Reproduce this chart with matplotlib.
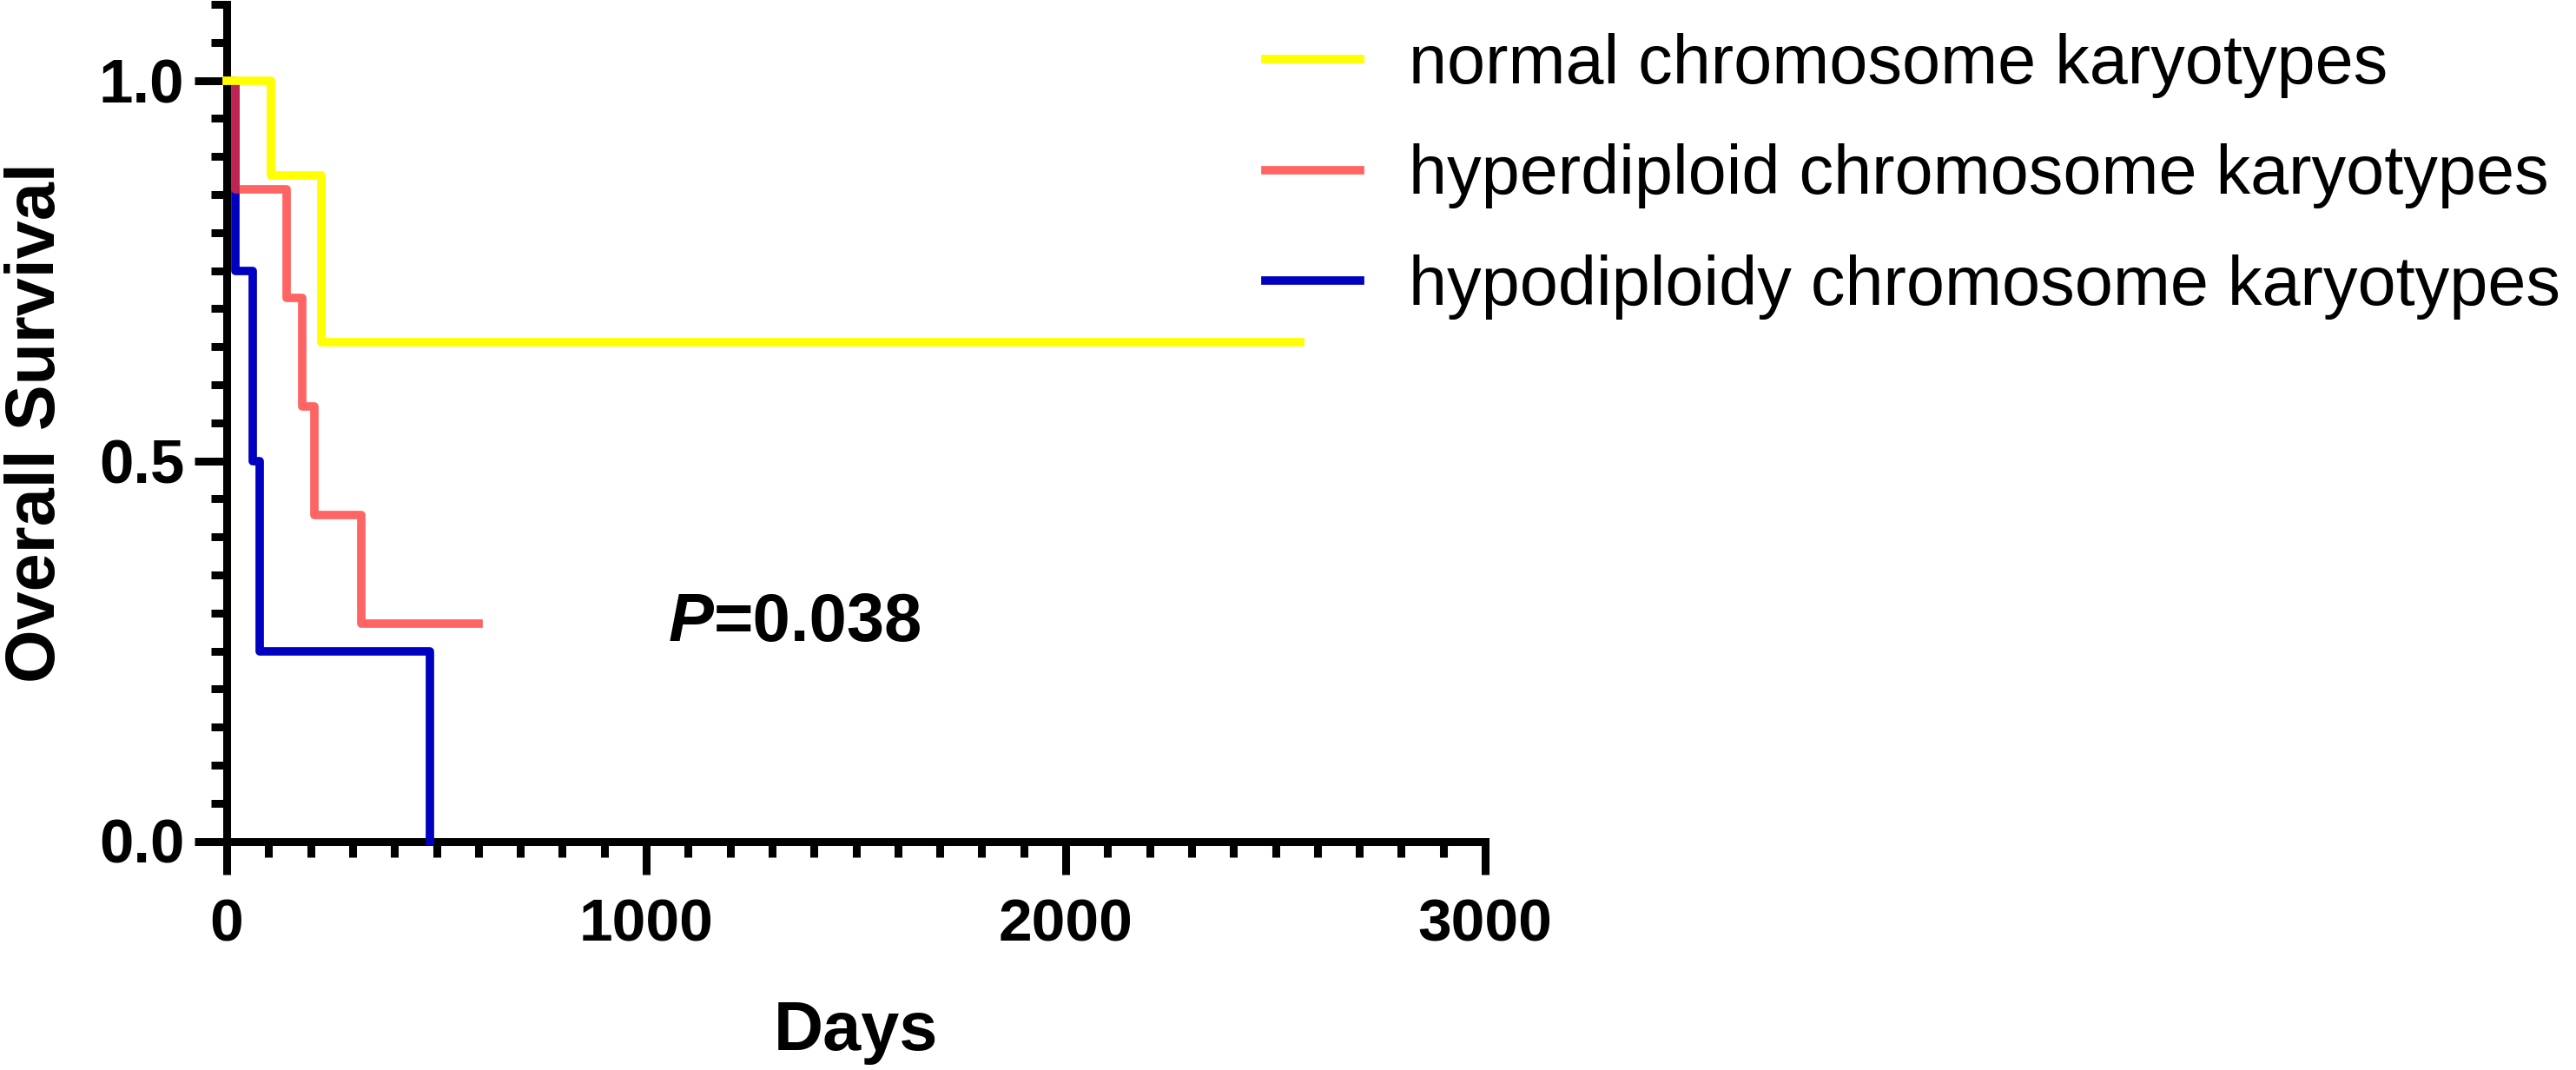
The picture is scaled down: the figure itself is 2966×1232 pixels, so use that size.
import matplotlib
matplotlib.use("Agg")
import matplotlib.pyplot as plt
from matplotlib import font_manager
from matplotlib.ticker import MultipleLocator, FormatStrFormatter

# Kaplan-Meier steps (days, survival)
normal_days = [0, 106, 226, 2560]
normal_surv = [1.0, 0.875, 0.656, 0.656]

hyper_days = [0, 20, 142, 180, 210, 321, 600]
hyper_surv = [1.0, 0.857, 0.714, 0.571, 0.429, 0.286, 0.286]

hypo_days = [0, 20, 62, 79, 485]
hypo_surv = [1.0, 0.75, 0.5, 0.25, 0.0]

labels = ['normal chromosome karyotypes',
          'hyperdiploid chromosome karyotypes',
          'hypodiploidy chromosome karyotypes']
p_text = '=0.038'

# condensed face if installed, otherwise plain Liberation Sans
names = {f.name for f in font_manager.fontManager.ttflist}
narrow = 'Liberation Sans Narrow' if 'Liberation Sans Narrow' in names else 'Liberation Sans'
wide = 'Liberation Sans'

W, H = 2966, 1232
fig = plt.figure(figsize=(W / 100, H / 100), dpi=100)
ax = fig.add_axes([261 / W, 1 - 968.5 / H, (1710 - 261) / W, (968.5 - 5) / H])

lw = 7
l3, = ax.step(hypo_days, hypo_surv, where='post', color='#0000C0', lw=lw,
              zorder=3, clip_on=False)
l2, = ax.step(hyper_days, hyper_surv, where='post', color='#FF3030', alpha=0.75,
              lw=lw, zorder=4, clip_on=False)
l1, = ax.step(normal_days, normal_surv, where='post', color='#FFFF00', lw=lw,
              zorder=5, clip_on=False)

ax.set_xlim(0, 3000)
ax.set_ylim(0, 1.1)
ax.xaxis.set_major_locator(MultipleLocator(1000))
ax.xaxis.set_minor_locator(MultipleLocator(100))
ax.yaxis.set_major_locator(MultipleLocator(0.5))
ax.yaxis.set_minor_locator(MultipleLocator(0.05))
ax.yaxis.set_major_formatter(FormatStrFormatter('%.1f'))

for s in ['top', 'right']:
    ax.spines[s].set_visible(False)
for s in ['left', 'bottom']:
    ax.spines[s].set_linewidth(6.5)

ax.tick_params(which='major', direction='out', length=27, width=6.5)
ax.tick_params(which='minor', direction='out', length=13, width=6.5)
ax.tick_params(axis='x', which='major', pad=20)
ax.tick_params(axis='y', which='major', pad=8)

for t in ax.get_xticklabels():
    t.set_fontfamily(narrow)
    t.set_fontweight('bold')
    t.set_fontsize(50)
for t in ax.get_yticklabels():
    t.set_fontfamily(wide)
    t.set_fontweight('bold')
    t.set_fontsize(51)

ax.set_xlabel('Days', fontfamily=narrow, fontweight='bold', fontsize=57)
ax.set_ylabel('Overall Survival', fontfamily=narrow, fontweight='bold', fontsize=57)
ax.xaxis.set_label_coords(0.5, -0.189)
ax.yaxis.set_label_coords(-0.125, 0.5)

# P value, italic P then the number
tp = ax.text(1054, 0.263, 'P', fontfamily=wide, fontweight='bold', fontstyle='italic',
             fontsize=56, va='baseline', ha='left')
ax.annotate(p_text, xy=(1, 0), xycoords=tp, va='bottom', ha='left',
            fontfamily=wide, fontweight='bold', fontsize=56)

leg = fig.legend([l1, l2, l3], labels, loc='upper left',
                 bbox_to_anchor=(1457 / W, 1 - 38 / H), frameon=False,
                 prop={'family': narrow, 'size': 57}, handlelength=1.38,
                 handletextpad=0.7, labelspacing=0.66, borderpad=0,
                 borderaxespad=0)

fig.savefig('out.png', dpi=100)
